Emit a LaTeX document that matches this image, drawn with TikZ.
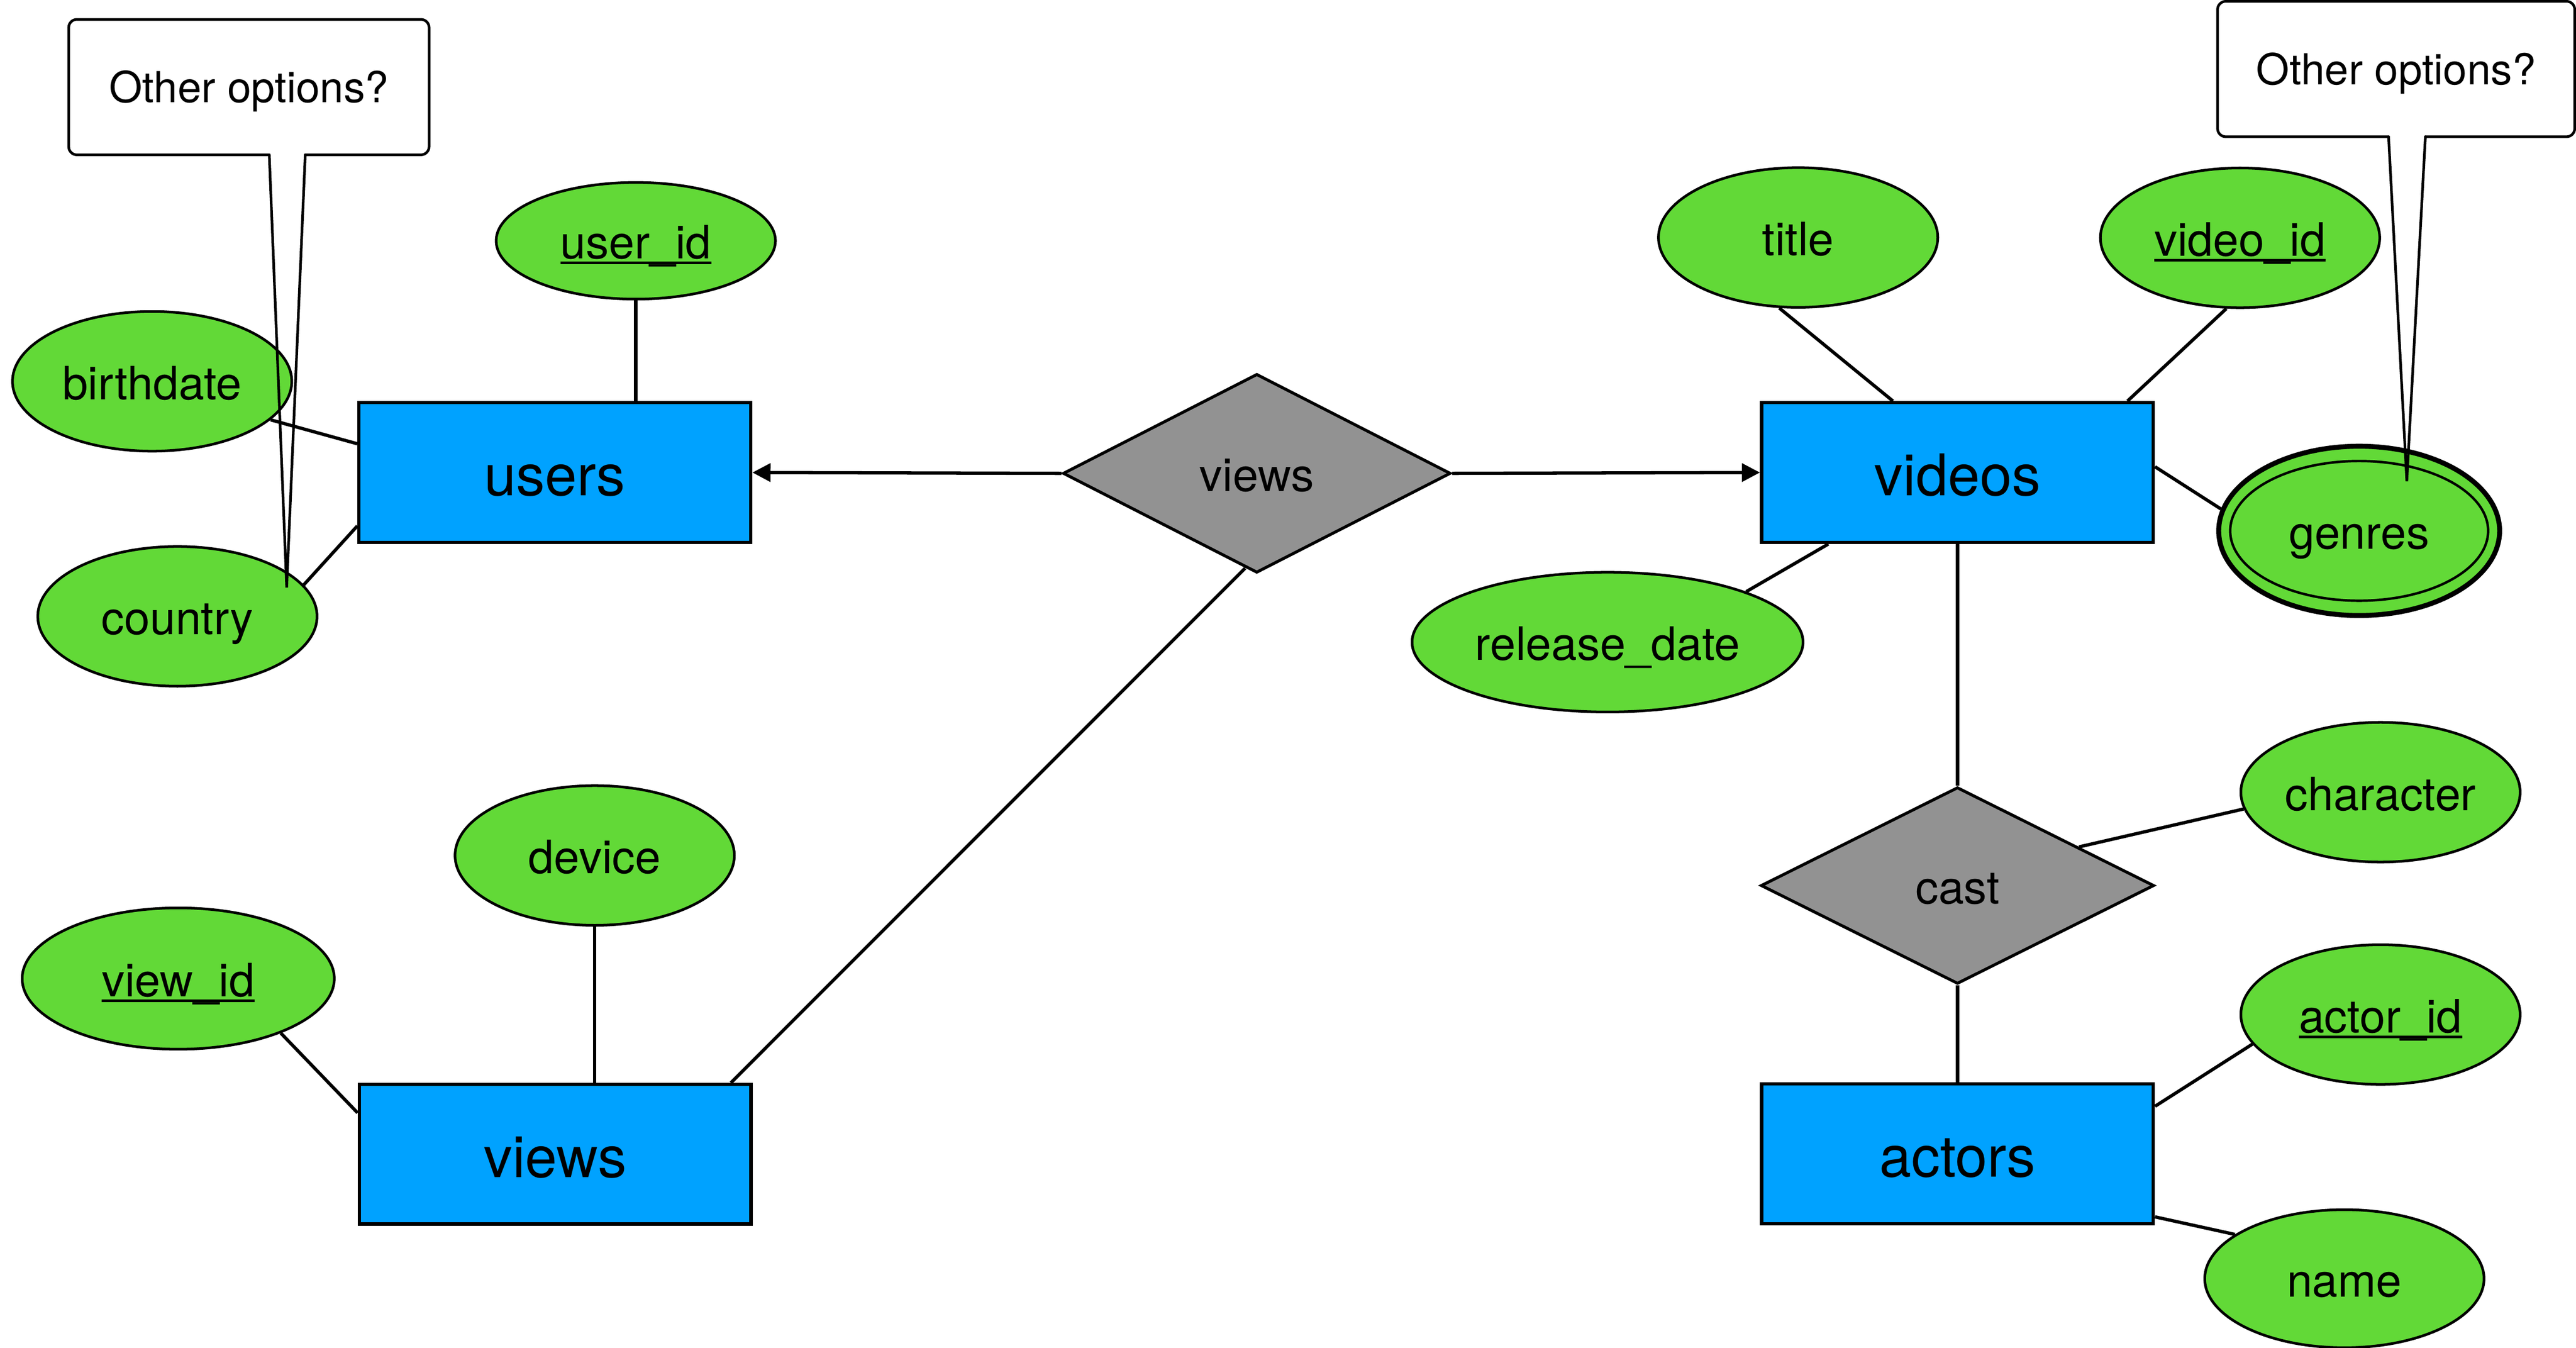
\documentclass[tikz,border=0pt]{standalone}
\usepackage{fontspec}
\setmainfont{TeX Gyre Heros}
\usetikzlibrary{shapes.geometric,arrows.meta,calc}
\definecolor{attrgreen}{RGB}{98,217,55}
\definecolor{entblue}{RGB}{0,162,255}
\definecolor{relgray}{RGB}{146,146,146}
\newcommand\keyattr[1]{\setbox0=\hbox{#1}\rlap{\rule[-0.12em]{\wd0}{0.06em}}\box0}
\begin{document}
\begin{tikzpicture}[x=1pt,y=-1pt,
  entity/.style={rectangle, draw, line width=2pt, fill=entblue, minimum width=238.5pt, minimum height=85pt, inner sep=0pt, font=\fontsize{35}{40}\selectfont, text height=28pt, text depth=0pt},
  attr/.style={ellipse, draw, line width=1.6pt, fill=attrgreen, minimum width=170pt, minimum height=85pt, inner sep=0pt, font=\fontsize{28}{32}\selectfont, text height=22pt, text depth=0pt},
  rel/.style={diamond, draw, line width=1.8pt, fill=relgray, inner sep=0pt, font=\fontsize{28}{32}\selectfont, text height=22pt, text depth=0pt},
  link/.style={line width=2pt},
  arrowlink/.style={line width=2pt, -{Triangle[length=11pt,width=11pt]}},
  calltext/.style={rectangle, inner sep=0pt, minimum height=82pt, font=\fontsize{26}{30}\selectfont, text height=18.7pt, text depth=0pt},
  callline/.style={line width=1.6pt, line cap=round}
]
\useasboundingbox (0,0) rectangle (1568,820);

% entities
\node[entity] (users) at (337.75,287.5) {users};
\node[entity] (videos) at (1191.5,287.5) {videos};
\node[entity] (views) at (337.9,702.3) {views};
\node[entity] (actors) at (1191.5,702) {actors};

% relationships
\node[rel, minimum width=236pt, minimum height=121pt] (vdiam) at (765,288) {views};
\node[rel, minimum width=239.4pt, minimum height=119.7pt] (cast) at (1191.5,538.8) {cast};

% attributes
\node[attr, minimum height=71pt] (userid) at (387,146.5) {\keyattr{user\_id}};
\node[attr] (birthdate) at (92.6,232) {birthdate};
\node[attr] (country) at (108,375) {country};
\node[attr] (title) at (1094.5,144.5) {title};
\node[attr] (videoid) at (1363.5,144.7) {\keyattr{video\_id}};
\node[attr, line width=3pt, minimum width=171pt, minimum height=103pt] (genres) at (1436,323) {genres};
\draw[line width=1.5pt] (genres.center) ellipse [x radius=78.5pt, y radius=42.5pt];
\node[attr, minimum width=238pt] (release) at (978.5,390.7) {release\_date};
\node[attr] (character) at (1449,482) {character};
\node[attr] (actorid) at (1449,617.3) {\keyattr{actor\_id}};
\node[attr, minimum height=84pt] (name) at (1427,778) {name};
\node[attr, minimum width=190pt, minimum height=86pt] (viewid) at (108.5,595.4) {\keyattr{view\_id}};
\node[attr] (device) at (362,520.5) {device};

% connectors
\draw[link] (userid.south) -- (userid.south |- users.north);
\draw[link] (birthdate.-18) -- ([yshift=17.5pt]users.west);
\draw[link] (country.14) -- ([yshift=-32.5pt]users.west);
\draw[arrowlink] (vdiam.west) -- (users.east);
\draw[arrowlink] (vdiam.east) -- (videos.west);
\draw[link] ($(vdiam.south)!0.06!(vdiam.west)$) -- ([xshift=107pt]views.north);
\draw[link] (title.255) -- ([xshift=-39.3pt]videos.north);
\draw[link] (videoid.259) -- ([xshift=103.5pt]videos.north);
\draw[link] (genres.171.4) -- ([yshift=3.5pt]videos.east);
\draw[link] (release.20.2) -- ([xshift=-78.6pt]videos.south);
\draw[link] (videos.south) -- (cast.north);
\draw[link] (cast.south) -- (actors.north);
\draw[link] ($(cast.north)!0.613!(cast.east)$) -- (character.187.8);
\draw[link] (actorid.193.2) -- ([yshift=28.9pt]actors.east);
\draw[link] (name.158.8) -- ([yshift=-38.4pt]actors.east);
\draw[link] (viewid.-28.8) -- ([yshift=25.2pt]views.west);
\draw[link] (device.south) -- (device.south |- views.north);

% callouts
\node[calltext, minimum width=219pt] (call1) at (151.5,53) {Other options?};
\coordinate (tip1) at (174.5,357.5);
\draw[callline, rounded corners=5pt] ([xshift=34.3pt]call1.south) -- (call1.south east) -- (call1.north east) -- (call1.north west) -- (call1.south west) -- ([xshift=12.4pt]call1.south);
\draw[callline] ([xshift=12.4pt]call1.south) -- (tip1) -- ([xshift=34.3pt]call1.south);

\node[calltext, minimum width=217pt] (call2) at (1458.5,42) {Other options?};
\coordinate (tip2) at (1465,292.8);
\draw[callline, rounded corners=5pt] ([xshift=17.8pt]call2.south) -- (call2.south east) -- (call2.north east) -- (call2.north west) -- (call2.south west) -- ([xshift=-4.6pt]call2.south);
\draw[callline] ([xshift=-4.6pt]call2.south) -- (tip2) -- ([xshift=17.8pt]call2.south);
\end{tikzpicture}
\end{document}
